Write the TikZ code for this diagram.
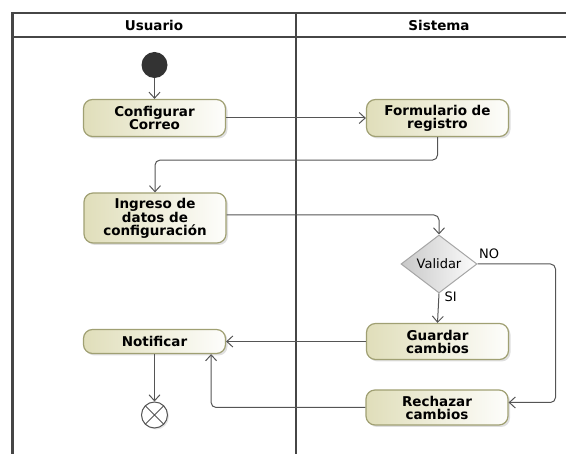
\documentclass[tikz,border=0pt]{standalone}
\usepackage{fontspec}
\setmainfont{DejaVu Sans}
\usetikzlibrary{arrows.meta}
\usetikzlibrary{shapes.geometric}
\usetikzlibrary{shadows}

\definecolor{lane}{RGB}{70,70,70}
\definecolor{flujo}{RGB}{85,85,85}
\definecolor{borde}{RGB}{160,160,115}
\definecolor{crema}{RGB}{224,222,186}
\definecolor{gris}{RGB}{200,200,200}

\tikzset{
  actividad/.style={draw=borde, line width=1.2pt, rounded corners=9pt, left color=crema, right color=white!95!crema,
    minimum width=142pt, align=center, inner sep=2pt, font=\fontsize{13.5}{13}\selectfont\bfseries,
    drop shadow={shadow xshift=2pt, shadow yshift=-2pt, fill=black!25}},
  decision/.style={diamond, draw=gray!70, line width=1pt, left color=gris, right color=white!95!gris,
    minimum width=76pt, minimum height=58pt, inner sep=0pt, aspect=1.3, font=\fontsize{13}{13}\selectfont},
  flow/.style={draw=flujo, line width=1pt, rounded corners=5pt, -{Straight Barb[length=6pt,width=11pt]}},
  etiqueta/.style={font=\fontsize{13}{13}\selectfont}
}

\begin{document}
\begin{tikzpicture}[x=1pt, y=-1pt]
\useasboundingbox (0,0) rectangle (566,454);
% carriles
\draw[lane, line width=2.2pt] (566,13) -- (12.5,13) -- (12.5,454);
\draw[lane, line width=2.2pt] (12.5,37) -- (566,37);
\draw[lane, line width=2.8pt] (296,13) -- (296,454);
\node[etiqueta, font=\fontsize{13.5}{13}\selectfont\bfseries] (usuario) at (154,25) {Usuario};
\node[etiqueta, font=\fontsize{13.5}{13}\selectfont\bfseries] (sistema) at (439,25) {Sistema};

% nodos
\node[circle, fill=black!80, minimum size=26pt, inner sep=0pt] (inicio) at (154.5,65) {};
\node[actividad, minimum height=37pt] (config) at (154.5,118) {Configurar\\Correo};
\node[actividad, minimum height=37pt] (form) at (437.5,118) {Formulario de\\registro};
\node[actividad, minimum height=50pt] (ingreso) at (155,218) {Ingreso de\\datos de\\configuración};
\node[decision] (validar) at (439,264) {Validar};
\node[actividad, minimum height=36pt] (guardar) at (437.5,341.5) {Guardar\\cambios};
\node[actividad, minimum height=24pt, minimum width=142pt] (notificar) at (154.5,341.5) {Notificar};
\node[actividad, minimum height=35pt] (rechazar) at (437,407.5) {Rechazar\\cambios};
\node[circle, draw=flujo, line width=1pt, fill=white, minimum size=26pt, inner sep=0pt,
  drop shadow={shadow xshift=1.5pt, shadow yshift=-1.5pt, fill=black!20},
  path picture={\draw[flujo, line width=1pt] (path picture bounding box.north west) -- (path picture bounding box.south east)
    (path picture bounding box.north east) -- (path picture bounding box.south west);}] (fin) at (154.5,415) {};

% flujos
\draw[flow] (inicio) -- (config);
\draw[flow] (config.east) -- (form.west);
\draw[flow] (form.south) -- ++(0,23) -| (ingreso.north);
\draw[flow] ([yshift=3pt]ingreso.east) -| (validar.north);
\draw[flow] (validar.south) -- (guardar.north) node[etiqueta, pos=0.1, right=2pt] {SI};
\draw[flow] (validar.east) -- ++(78,0) node[etiqueta, pos=0.15, above=1pt] {NO} |- ([yshift=5pt]rechazar.east);
\draw[flow] (guardar.west) -- (notificar.east);
\draw[flow] (rechazar.west) -| ([xshift=-15pt]notificar.south east);
\draw[flow] (notificar.south) -- (fin.north);
\end{tikzpicture}
\end{document}
